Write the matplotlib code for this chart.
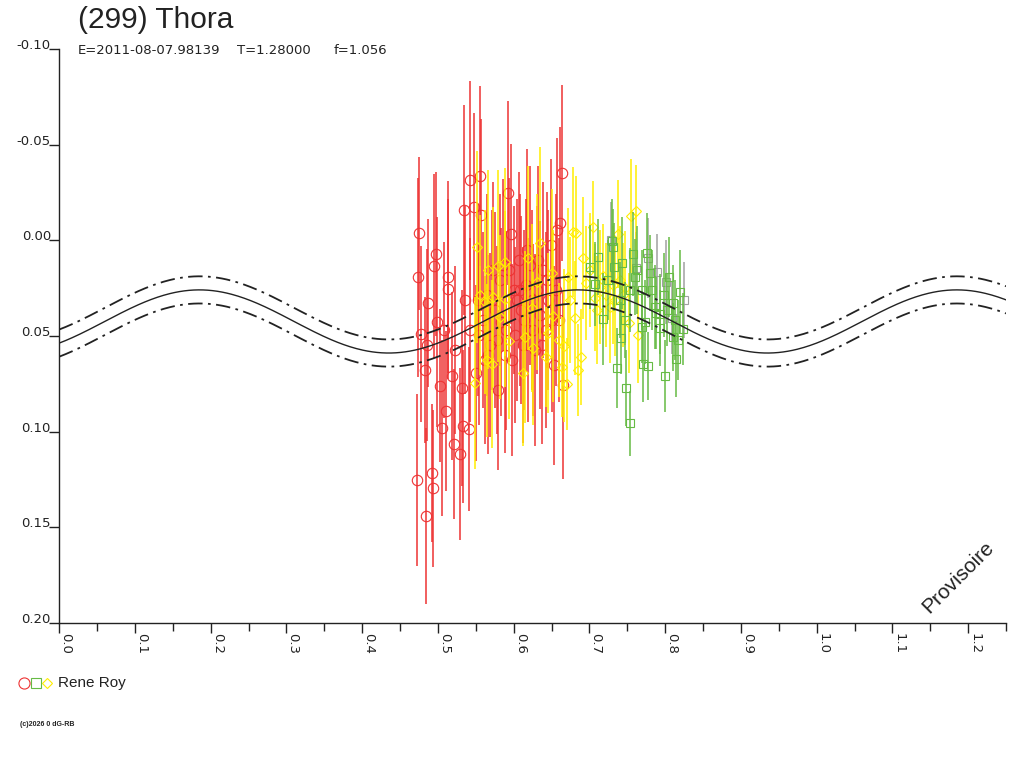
import numpy as np
import matplotlib
matplotlib.use('Agg')
import matplotlib.pyplot as plt
from matplotlib.ticker import MultipleLocator, FormatStrFormatter

plt.rcParams['font.family'] = ['Liberation Sans', 'DejaVu Sans']

# donnees (phase, magnitude relative, erreur)
red_phase = [0.472, 0.473, 0.475, 0.477, 0.483, 0.484, 0.486, 0.487, 0.492, 0.493,
             0.495, 0.497, 0.499, 0.503, 0.505, 0.510, 0.513, 0.513, 0.518, 0.521,
             0.529, 0.532, 0.533, 0.534, 0.541, 0.542, 0.548, 0.550, 0.555, 0.557,
             0.562, 0.565, 0.569, 0.573, 0.575, 0.579, 0.583, 0.586, 0.590, 0.592,
             0.596, 0.598, 0.600, 0.604, 0.607, 0.610, 0.612, 0.616, 0.619, 0.621,
             0.624, 0.628, 0.631, 0.635, 0.639, 0.643, 0.645, 0.649, 0.653, 0.657,
             0.660, 0.661, 0.664, 0.665,
             0.542, 0.553, 0.559, 0.566, 0.571, 0.578, 0.582, 0.588, 0.594, 0.602,
             0.608, 0.614, 0.618, 0.626, 0.632, 0.637, 0.644, 0.650, 0.656, 0.554,
             0.522, 0.536, 0.508]
red_mag = [0.1253, 0.0192, -0.0038, 0.0490, 0.0678, 0.1441, 0.0547, 0.0328, 0.1216, 0.1295,
           0.0134, 0.0072, 0.0427, 0.0761, 0.0981, 0.0892, 0.0192, 0.0254, 0.0709, 0.1065,
           0.1117, 0.0772, 0.0971, -0.0158, 0.0986, -0.0315, -0.0174, 0.0694, -0.0336, -0.0132,
           0.0626, 0.0286, 0.0547, 0.0155, 0.0364, 0.0782, 0.0427, 0.0129, 0.0469, -0.0247,
           -0.0033, 0.0626, 0.0260, 0.0312, 0.0103, 0.0364, 0.0547, 0.0233, 0.0469, 0.0129,
           0.0312, 0.0573, 0.0260, 0.0390, 0.0155, 0.0469, 0.0312, 0.0024, 0.0652, -0.0054,
           0.0417, -0.0090, -0.0352, 0.0756,
           0.0469, 0.0312, 0.0417, 0.0599, 0.0312, 0.0521, 0.0207, 0.0599, 0.0155, 0.0495,
           0.0260, 0.0417, 0.0051, 0.0469, 0.0103, 0.0547, 0.0207, 0.0417, 0.0260, 0.0495,
           0.0573, 0.0312, 0.0469]
red_err = [0.045, 0.052, 0.040, 0.046, 0.038, 0.046, 0.050, 0.044, 0.036, 0.041,
           0.048, 0.043, 0.055, 0.040, 0.046, 0.042, 0.050, 0.047, 0.044, 0.039,
           0.045, 0.051, 0.040, 0.055, 0.043, 0.052, 0.049, 0.046, 0.047, 0.050,
           0.044, 0.053, 0.048, 0.046, 0.051, 0.042, 0.049, 0.045, 0.052, 0.048,
           0.047, 0.050, 0.044, 0.053, 0.046, 0.049, 0.051, 0.045, 0.048, 0.052,
           0.047, 0.050, 0.044, 0.049, 0.046, 0.051, 0.047, 0.045, 0.052, 0.048,
           0.043, 0.050, 0.046, 0.049,
           0.048, 0.050, 0.046, 0.052, 0.047, 0.049, 0.045, 0.051, 0.048, 0.046,
           0.050, 0.047, 0.053, 0.045, 0.049, 0.052, 0.046, 0.048, 0.050, 0.047,
           0.044, 0.049, 0.046]

yellow_phase = [0.549, 0.552, 0.555, 0.562, 0.565, 0.566, 0.571, 0.573, 0.579, 0.582,
                0.588, 0.588, 0.594, 0.612, 0.615, 0.619, 0.624, 0.625, 0.631, 0.635,
                0.643, 0.645, 0.650, 0.652, 0.660, 0.664, 0.666, 0.670, 0.672, 0.678,
                0.682, 0.685, 0.689, 0.691, 0.695, 0.705, 0.707, 0.714, 0.718, 0.727,
                0.731, 0.738, 0.744, 0.747, 0.752, 0.755, 0.761, 0.764, 0.740, 0.701,
                0.722, 0.734, 0.710, 0.674, 0.681]
yellow_mag = [0.0746, 0.0035, 0.0286, 0.0322, 0.0626, 0.0155, 0.0647, 0.0296, 0.0134, 0.0401,
              0.0113, 0.0307, 0.0526, 0.0694, 0.0505, 0.0092, 0.0354, 0.0563, 0.0218, 0.0014,
              0.0610, 0.0484, 0.0171, 0.0396, 0.0521, 0.0662, 0.0552, 0.0751, 0.0192, -0.0043,
              -0.0038, 0.0678, 0.0610, 0.0092, 0.0223, -0.0070, 0.0301, 0.0244, 0.0186, 0.0349,
              0.0233, -0.0033, 0.0286, 0.0249, 0.0432, -0.0127, -0.0153, 0.0495, 0.0207, 0.0155,
              0.0286, 0.0312, 0.0364, 0.0312, 0.0406]
yellow_err = [0.045, 0.050, 0.042, 0.048, 0.040, 0.052, 0.044, 0.047, 0.050, 0.043,
              0.049, 0.046, 0.041, 0.038, 0.045, 0.048, 0.044, 0.040, 0.046, 0.050,
              0.026, 0.042, 0.044, 0.045, 0.030, 0.026, 0.040, 0.024, 0.036, 0.034,
              0.030, 0.024, 0.025, 0.032, 0.030, 0.024, 0.028, 0.030, 0.027, 0.029,
              0.031, 0.028, 0.027, 0.030, 0.026, 0.030, 0.024, 0.025, 0.028, 0.030,
              0.027, 0.029, 0.028, 0.033, 0.030]

green_phase = [0.701, 0.711, 0.718, 0.730, 0.731, 0.732, 0.736, 0.742, 0.743, 0.748,
               0.753, 0.757, 0.760, 0.763, 0.769, 0.769, 0.771, 0.773, 0.776, 0.777,
               0.780, 0.786, 0.788, 0.793, 0.793, 0.798, 0.800, 0.805, 0.810, 0.810,
               0.814, 0.817, 0.819, 0.823, 0.725, 0.740, 0.753, 0.782, 0.802, 0.707,
               0.747, 0.813]
green_mag = [0.0140, 0.0087, 0.0411, 0.0004, 0.0035, 0.0140, 0.0667, 0.0510, 0.0119, 0.0772,
             0.0955, 0.0072, 0.0192, 0.0155, 0.0260, 0.0453, 0.0647, 0.0427, 0.0066, 0.0657,
             0.0171, 0.0349, 0.0380, 0.0385, 0.0458, 0.0286, 0.0709, 0.0192, 0.0328, 0.0505,
             0.0620, 0.0521, 0.0270, 0.0464, 0.0207, 0.0312, 0.0260, 0.0260, 0.0364, 0.0228,
             0.0417, 0.0417]
green_err = [0.022, 0.020, 0.024, 0.022, 0.020, 0.023, 0.021, 0.019, 0.024, 0.020,
             0.017, 0.022, 0.020, 0.023, 0.021, 0.019, 0.020, 0.022, 0.021, 0.018,
             0.020, 0.022, 0.019, 0.021, 0.020, 0.022, 0.019, 0.021, 0.020, 0.018,
             0.020, 0.021, 0.022, 0.019, 0.021, 0.020, 0.022, 0.021, 0.019, 0.022,
             0.020, 0.021]

gray_phase = [0.728, 0.761, 0.777, 0.789, 0.801, 0.809, 0.825]
gray_mag = [-0.0002, 0.0145, 0.0092, 0.0166, 0.0218, 0.0406, 0.0312]
gray_err = [0.020, 0.019, 0.021, 0.020, 0.022, 0.019, 0.020]

# courbe de Fourier
curve_mean = 0.0424
curve_amp = 0.0165
curve_phase0 = 0.185
curve_band = 0.0071

fig = plt.figure(figsize=(10.24, 7.68), dpi=100)
ax = fig.add_axes([0.0579, 0.1888, 0.9245, 0.7474])

ax.errorbar(red_phase, red_mag, yerr=red_err, fmt='o', color='#ee3333', ecolor='#ee3333',
            elinewidth=1.1, ms=7.5, mfc='none', mec='#ee3333', mew=0.8, capsize=0, zorder=2)
ax.errorbar(gray_phase, gray_mag, yerr=gray_err, fmt='s', color='#a0a0a0', ecolor='#a0a0a0',
            elinewidth=1.1, ms=6.3, mfc='none', mec='#a0a0a0', mew=0.8, capsize=0, zorder=3)
ax.errorbar(yellow_phase, yellow_mag, yerr=yellow_err, fmt='D', color='#ffee00', ecolor='#ffee00',
            elinewidth=1.1, ms=5.5, mfc='none', mec='#ffee00', mew=0.8, capsize=0, zorder=4)
ax.errorbar(green_phase, green_mag, yerr=green_err, fmt='s', color='#66bb44', ecolor='#66bb44',
            elinewidth=1.1, ms=6.3, mfc='none', mec='#66bb44', mew=0.8, capsize=0, zorder=5)

ph = np.linspace(0, 1.25, 600)
model = curve_mean - curve_amp * np.cos(4 * np.pi * (ph - curve_phase0))
ax.plot(ph, model, color='#222222', lw=1.0, zorder=6)
ax.plot(ph, model - curve_band, color='#222222', lw=1.3, ls=(0, (8, 3, 1.5, 3)), zorder=6)
ax.plot(ph, model + curve_band, color='#222222', lw=1.3, ls=(0, (8, 3, 1.5, 3)), zorder=6)

ax.set_xlim(0, 1.25)
ax.set_ylim(0.20, -0.10)

for s in ['top', 'right']:
    ax.spines[s].set_visible(False)
for s in ['left', 'bottom']:
    ax.spines[s].set_color('#222222')
    ax.spines[s].set_linewidth(1.0)

ax.xaxis.set_major_locator(MultipleLocator(0.1))
ax.xaxis.set_minor_locator(MultipleLocator(0.05))
ax.xaxis.set_major_formatter(FormatStrFormatter('%.1f'))
ax.yaxis.set_major_locator(MultipleLocator(0.05))
ax.yaxis.set_major_formatter(FormatStrFormatter('%.2f'))

ax.tick_params(axis='x', which='major', direction='out', length=7.5, width=1,
               color='#222222', labelsize=9.5, labelcolor='#222222', pad=0)
ax.tick_params(axis='x', which='minor', direction='out', length=6, width=1, color='#222222')
ax.tick_params(axis='y', direction='out', length=7.5, width=1, color='#222222',
               labelsize=9.5, labelcolor='#222222', pad=-1.5)
for lbl in ax.get_xticklabels():
    lbl.set_rotation(-90)
    lbl.set_ha('left')
    lbl.set_va('top')
    lbl.set_family('DejaVu Sans')
for lbl in ax.get_yticklabels():
    lbl.set_va('baseline')
    lbl.set_family('DejaVu Sans')

# titres
fig.text(78 / 1024, 1 - 28 / 768, '(299) Thora', fontsize=21.5, color='#222222', va='baseline')
sub_y = 1 - 54 / 768
fig.text(78 / 1024, sub_y, 'E=2011-08-07.98139', fontsize=9.5, color='#222222',
         va='baseline', family='DejaVu Sans')
fig.text(237 / 1024, sub_y, 'T=1.28000', fontsize=9.5, color='#222222',
         va='baseline', family='DejaVu Sans')
fig.text(334 / 1024, sub_y, 'f=1.056', fontsize=9.5, color='#222222',
         va='baseline', family='DejaVu Sans')

ax.text(958 / 1024, 1 - 577 / 768, 'Provisoire', transform=fig.transFigure, rotation=45,
        fontsize=15, color='#222222', ha='center', va='center')

# legende
leg_y = 1 - 683 / 768
ax.plot([24 / 1024], [leg_y], 'o', ms=8, mfc='none', mec='#ee3333', mew=0.8,
        transform=fig.transFigure, clip_on=False)
ax.plot([36 / 1024], [leg_y], 's', ms=6.5, mfc='none', mec='#66bb44', mew=0.8,
        transform=fig.transFigure, clip_on=False)
ax.plot([47 / 1024], [leg_y], 'D', ms=5.5, mfc='none', mec='#ffee00', mew=0.8,
        transform=fig.transFigure, clip_on=False)
fig.text(58 / 1024, leg_y, 'Rene Roy', fontsize=11, color='#222222', va='center')

fig.text(20 / 1024, 1 - 725 / 768, '(c)2026 0 dG-RB', fontsize=5, fontweight='bold',
         color='#222222', va='center')

fig.savefig('out.png', dpi=100)
